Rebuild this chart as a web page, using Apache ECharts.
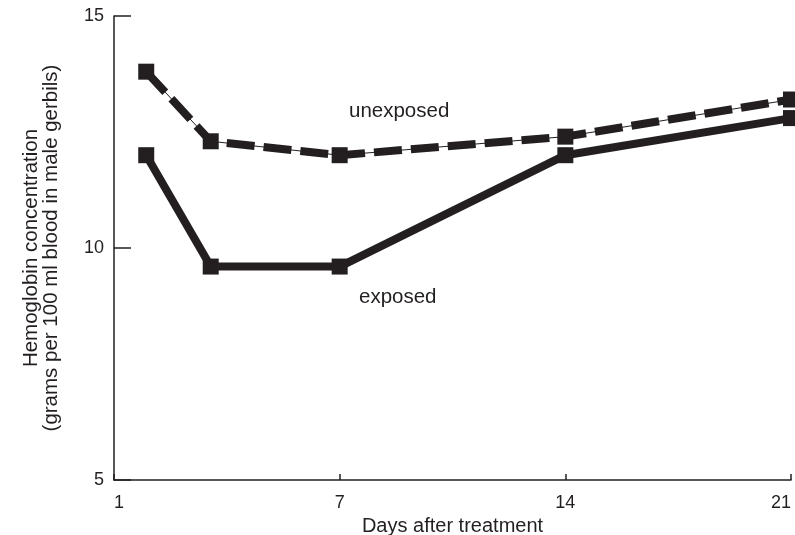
<!DOCTYPE html>
<html>
<head>
<meta charset="utf-8">
<script src="https://cdn.jsdelivr.net/npm/echarts@6/dist/echarts.min.js"></script>
<style>
html,body{margin:0;padding:0;background:#fff;}
#chart{width:795px;height:535px;}
</style>
</head>
<body>
<div id="chart"></div>
<script>
var days = [1, 3, 7, 14, 21];
var unexposed = [13.8, 12.3, 12.0, 12.4, 13.2];
var exposed = [12.0, 9.6, 9.6, 12.0, 12.8];
var xTickValues = [0, 7, 14, 21];
var xTickLabels = ["1", "7", "14", "21"];

function pairs(xs, ys){ return xs.map(function(x,i){ return [x, ys[i]]; }); }

var ink = '#231f20';
var font = 'Liberation Sans, Arial, sans-serif';
var chart = echarts.init(document.getElementById('chart'));
chart.setOption({
  animation: false,
  backgroundColor: '#fff',
  grid: {left: 114, right: 4, top: 16, bottom: 55, containLabel: false, outerBoundsMode: 'none'},
  xAxis: {
    type: 'value', min: 0, max: 21,
    name: 'Days after treatment', nameLocation: 'middle', nameGap: 33,
    nameTextStyle: {color: ink, fontSize: 20, fontFamily: font},
    axisLine: {lineStyle: {color: ink, width: 1.5}},
    axisTick: {show: true, inside: true, length: 6, lineStyle: {color: ink, width: 1.5}, customValues: xTickValues},
    axisLabel: {color: ink, fontSize: 18, fontFamily: font, margin: 14, customValues: xTickValues,
      alignMinLabel: 'left', alignMaxLabel: 'right',
      formatter: function(v){ var i = xTickValues.indexOf(v); return i >= 0 ? xTickLabels[i] : ''; }},
    splitLine: {show: false}
  },
  yAxis: {
    type: 'value', min: 5, max: 15, interval: 5,
    name: 'Hemoglobin concentration\n(grams per 100 ml blood in male gerbils)',
    nameLocation: 'middle', nameGap: 53, nameRotate: 90,
    nameTextStyle: {color: ink, fontSize: 20.5, fontFamily: font, lineHeight: 20},
    axisLine: {show: true, lineStyle: {color: ink, width: 1.5}},
    axisTick: {show: true, inside: true, length: 17, lineStyle: {color: ink, width: 1.5}},
    axisLabel: {color: ink, fontSize: 18, fontFamily: font, margin: 10},
    splitLine: {show: false}
  },
  series: [
    {type: 'line', data: pairs(days, unexposed), symbol: 'none', lineStyle: {color: ink, width: 1}, z: 2, silent: true},
    {type: 'line', data: pairs(days, unexposed), symbol: 'rect', symbolSize: 16,
     itemStyle: {color: ink}, lineStyle: {color: ink, width: 8, type: [28, 9]}, z: 3},
    {type: 'line', data: pairs(days, exposed), symbol: 'rect', symbolSize: 16,
     itemStyle: {color: ink}, lineStyle: {color: ink, width: 8}, z: 3}
  ],
  graphic: [
    {type: 'text', left: 349, top: 101, style: {text: 'unexposed', fill: ink, font: '20.5px ' + font}},
    {type: 'text', left: 359, top: 287, style: {text: 'exposed', fill: ink, font: '20.5px ' + font}}
  ]
});
</script>
</body>
</html>
